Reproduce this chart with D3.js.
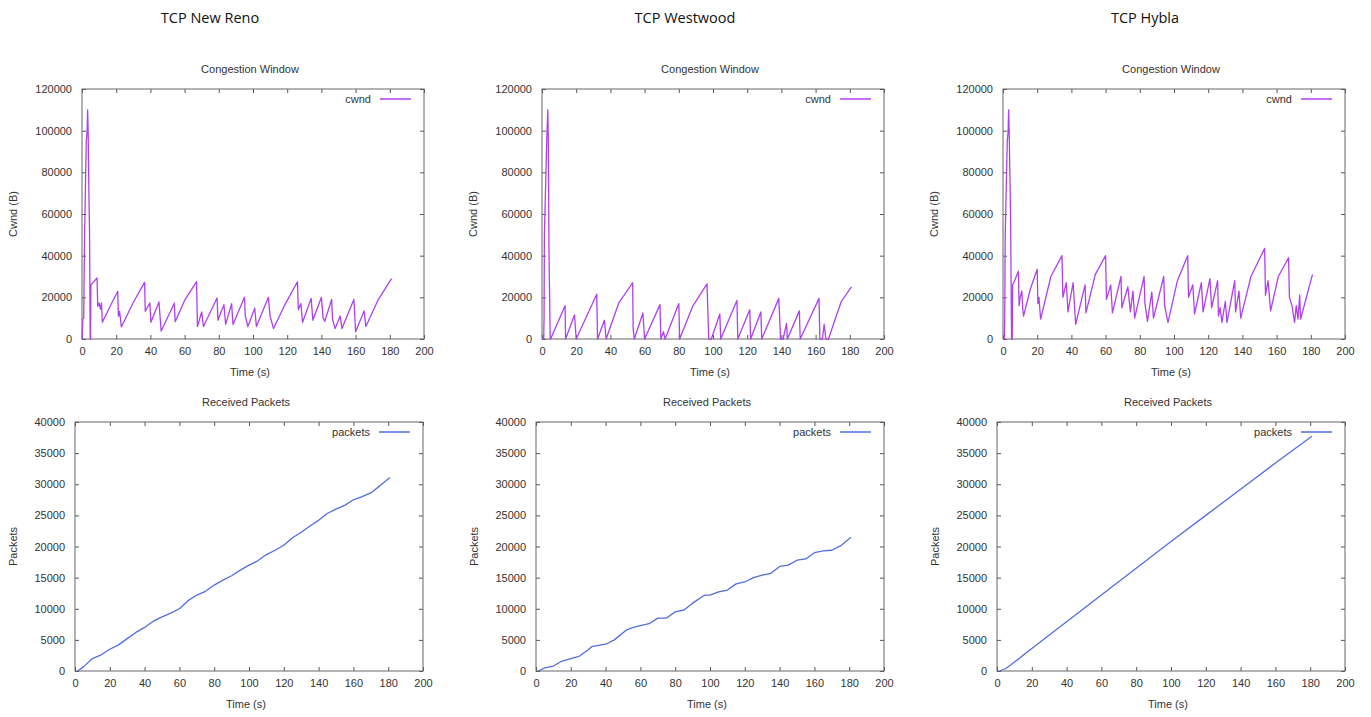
<!DOCTYPE html>
<meta charset="utf-8">
<style>

body {
  margin: 0;
  background: #fff;
}

text {
  font-family: "Liberation Sans", Arial, sans-serif;
  fill: #333;
}

.axis text {
  font-size: 11px;
}

.axis line {
  stroke: #555;
}

.frame {
  fill: none;
  stroke: #666;
  stroke-width: 1px;
}

.series {
  fill: none;
  stroke-width: 1.3px;
  stroke-linejoin: round;
}

</style>
<svg width="1371" height="717"></svg>
<script src="https://d3js.org/d3.v7.min.js"></script>
<script>

var protocols = ["TCP New Reno", "TCP Westwood", "TCP Hybla"];

var timeTicks = [0, 20, 40, 60, 80, 100, 120, 140, 160, 180, 200];
var cwndTicks = [0, 20000, 40000, 60000, 80000, 100000, 120000];
var packetTicks = [0, 5000, 10000, 15000, 20000, 25000, 30000, 35000, 40000];

// [time (s), cwnd (B)]
var renoCwnd = [
  [0, 0], [0.5, 10000], [1, 10000], [1.5, 50000], [2.5, 95000], [3, 100000], [3.3, 110000],
  [3.6, 100000], [4, 72000], [4.4, 52000], [4.8, 0], [5, 0], [5.2, 26000], [8.8, 29300],
  [9.2, 15700], [10, 17300], [10.8, 14400], [11.4, 17300], [11.9, 8000], [16, 15000],
  [20.9, 22900], [21.3, 10900], [22, 13300], [23, 5800], [30, 17500], [36.6, 27200],
  [37, 13300], [39.7, 17300], [40.3, 8000], [45, 17800], [46.3, 3800], [54, 17200],
  [54.5, 8300], [60, 18500], [67, 27500], [67.5, 6000], [70, 13000], [71, 6000],
  [79, 19700], [79.5, 9000], [83, 16500], [84, 7000], [87.5, 17000], [88.3, 7000],
  [95, 20000], [95.5, 11000], [97, 6000], [101, 14800], [102, 6000], [109, 20000],
  [110, 11000], [112, 5000], [119, 17000], [126, 27500], [126.5, 14000], [128, 17000],
  [129, 8000], [134, 19500], [135, 9000], [140, 20000], [141, 10000], [142, 8500],
  [146, 19000], [146.5, 9500], [148, 5000], [151, 11000], [152, 5000], [159, 19000],
  [160, 3500], [165, 13500], [166, 6000], [173, 18500], [181, 29000]
];

var westwoodCwnd = [
  [0, 0], [1, 0], [1.2, 10000], [1.4, 50000], [2.8, 96000], [3.4, 110000], [3.7, 96000],
  [4.1, 41000], [4.8, 0], [5, 0], [13.5, 16000], [13.8, 0], [19, 11500], [20, 0],
  [32, 21500], [32.5, 0], [36.5, 9000], [37.5, 0], [45, 17500], [53, 27000], [53.3, 5000],
  [54, 0], [59, 12500], [60, 0], [69, 16500], [69.5, 0], [71, 3500], [72, 0], [80, 17000],
  [80.5, 0], [88, 15500], [96.5, 26500], [97.5, 0], [99, 0], [104, 12000], [104.5, 0],
  [114, 18500], [114.5, 0], [121.5, 14000], [122, 0], [128, 13000], [128.5, 0],
  [138.5, 19500], [139.5, 0], [141, 0], [143, 7500], [143.5, 0], [150.5, 13500], [151, 0],
  [162, 19500], [162.5, 0], [164, 0], [165, 7000], [166, 0], [167.5, 0], [175, 18000],
  [181, 25000]
];

var hyblaCwnd = [
  [0, 0], [0.8, 0], [1, 10000], [1.3, 50000], [2.5, 95000], [3, 100000], [3.3, 110000],
  [3.6, 100000], [4.2, 71000], [4.5, 52000], [5, 0], [5.4, 0], [5.6, 26000], [6.5, 27500],
  [9, 32500], [9.4, 16000], [10, 20000], [11, 23000], [11.5, 15000], [12, 11000],
  [16, 24000], [20, 33500], [20.4, 17000], [21, 20000], [22, 9500], [28, 30000],
  [34.5, 40000], [35, 20000], [37, 27000], [38, 13000], [41, 27000], [42.5, 7000],
  [48, 26000], [48.5, 12500], [54, 31000], [60, 40000], [60.5, 19000], [63, 26000],
  [64, 12500], [69, 30000], [69.5, 15000], [73, 25000], [74.5, 13000], [76, 23000],
  [77, 10000], [82.5, 30000], [83, 17000], [84.5, 8500], [87, 22500], [88, 10000],
  [94, 30000], [94.5, 16000], [96.5, 8000], [102, 28000], [108, 40000], [108.5, 20000],
  [111, 26000], [112, 12000], [116, 27000], [117, 13000], [121, 29000], [122, 15000],
  [125.5, 28000], [126, 11000], [127, 15000], [128, 8000], [130, 18000], [131, 8000],
  [135.5, 28000], [136, 13000], [138, 23000], [139, 10000], [145, 30000], [153, 43500],
  [153.5, 21000], [155, 28000], [156.5, 13500], [161, 30000], [167, 39000], [167.5, 20000],
  [169, 16000], [170.5, 8000], [171.5, 16000], [172.5, 9500], [173.5, 21000], [174, 9500],
  [181, 31000]
];

// [time (s), received packets]
var renoPackets = [
  [1.5, 0], [5, 700], [10, 2000], [15, 2600], [20, 3500], [25, 4200], [30, 5200], [35, 6200],
  [40, 7000], [45, 8000], [50, 8700], [55, 9300], [60, 10000], [65, 11300], [70, 12200],
  [75, 12800], [80, 13800], [85, 14600], [90, 15300], [95, 16200], [100, 17000],
  [105, 17700], [110, 18700], [115, 19400], [120, 20200], [125, 21400], [130, 22300],
  [135, 23300], [140, 24200], [145, 25300], [150, 26000], [155, 26600], [160, 27500],
  [165, 28000], [170, 28600], [175, 29700], [181, 31100]
];

var westwoodPackets = [
  [1.5, 0], [5, 500], [10, 800], [15, 1600], [20, 2000], [25, 2400], [30, 3400], [32, 3900],
  [40, 4300], [45, 5000], [52, 6600], [56, 7000], [60, 7300], [65, 7600], [70, 8500],
  [75, 8500], [80, 9500], [85, 9800], [90, 10900], [97, 12200], [100, 12200], [105, 12700],
  [110, 13000], [115, 14000], [120, 14300], [125, 15000], [130, 15400], [135, 15700],
  [140, 16800], [145, 17000], [150, 17800], [155, 18000], [160, 19000], [165, 19300],
  [170, 19400], [175, 20100], [181, 21500]
];

var hyblaPackets = [
  [1.5, 0], [5, 400], [8, 1000], [20, 3600], [40, 7900], [60, 12200], [80, 16500],
  [100, 20800], [120, 25000], [140, 29200], [160, 33400], [181, 37700]
];

var cwndSeries = [renoCwnd, westwoodCwnd, hyblaCwnd];
var packetSeries = [renoPackets, westwoodPackets, hyblaPackets];

var svg = d3.select("svg");

var columnTitleX = [210, 685, 1145];

protocols.forEach(function(name, i) {
  svg.append("text")
      .attr("x", columnTitleX[i])
      .attr("y", 23)
      .attr("text-anchor", "middle")
      .style("font-family", "'Open Sans', 'Liberation Sans', sans-serif")
      .style("font-size", "14.5px")
      .style("fill", "#111")
      .text(name);

  drawPanel({
    left: [82, 542, 1003][i], right: [424, 884, 1345][i], top: 89, bottom: 339,
    data: cwndSeries[i], yMax: 120000, yTicks: cwndTicks,
    title: "Congestion Window", yLabel: "Cwnd (B)", yLabelOffset: 69,
    key: "cwnd", color: "#b040ee"
  });

  drawPanel({
    left: [75, 536, 997][i], right: [423, 884, 1345][i], top: 422, bottom: 671,
    data: packetSeries[i], yMax: 40000, yTicks: packetTicks,
    title: "Received Packets", yLabel: "Packets", yLabelOffset: 62,
    key: "packets", color: "#4f6fe0"
  });
});

function drawPanel(p) {
  var x = d3.scaleLinear().domain([0, 200]).range([p.left, p.right]),
      y = d3.scaleLinear().domain([0, p.yMax]).range([p.bottom, p.top]);

  var g = svg.append("g");

  g.append("g")
      .attr("class", "axis")
      .attr("transform", "translate(0," + p.bottom + ")")
      .call(d3.axisBottom(x).tickValues(timeTicks).tickSize(-4).tickPadding(8))
      .call(function(a) { a.select(".domain").remove(); });

  g.append("g")
      .attr("class", "axis")
      .attr("transform", "translate(0," + p.top + ")")
      .call(d3.axisTop(x).tickValues(timeTicks).tickSize(-4).tickFormat(""))
      .call(function(a) { a.select(".domain").remove(); });

  g.append("g")
      .attr("class", "axis")
      .attr("transform", "translate(" + p.left + ",0)")
      .call(d3.axisLeft(y).tickValues(p.yTicks).tickSize(-4).tickPadding(10).tickFormat(d3.format("d")))
      .call(function(a) { a.select(".domain").remove(); });

  g.append("g")
      .attr("class", "axis")
      .attr("transform", "translate(" + p.right + ",0)")
      .call(d3.axisRight(y).tickValues(p.yTicks).tickSize(-4).tickFormat(""))
      .call(function(a) { a.select(".domain").remove(); });

  g.append("rect")
      .attr("class", "frame")
      .attr("x", p.left)
      .attr("y", p.top)
      .attr("width", p.right - p.left)
      .attr("height", p.bottom - p.top);

  var line = d3.line()
      .x(function(d) { return x(d[0]); })
      .y(function(d) { return y(d[1]); });

  g.append("path")
      .datum(p.data)
      .attr("class", "series")
      .attr("stroke", p.color)
      .attr("d", line);

  // legend, top right inside the frame
  g.append("text")
      .attr("x", p.right - 53)
      .attr("y", p.top + 14)
      .attr("text-anchor", "end")
      .style("font-size", "11px")
      .text(p.key);

  g.append("line")
      .attr("x1", p.right - 44)
      .attr("x2", p.right - 13)
      .attr("y1", p.top + 10)
      .attr("y2", p.top + 10)
      .attr("stroke", p.color)
      .attr("stroke-width", 1.5);

  var cx = (p.left + p.right) / 2 - 3;

  g.append("text")
      .attr("x", cx)
      .attr("y", p.top - 16)
      .attr("text-anchor", "middle")
      .style("font-size", "11px")
      .text(p.title);

  g.append("text")
      .attr("x", cx)
      .attr("y", p.bottom + 37)
      .attr("text-anchor", "middle")
      .style("font-size", "11px")
      .text("Time (s)");

  g.append("text")
      .attr("transform", "translate(" + (p.left - p.yLabelOffset + 4) + "," + ((p.top + p.bottom) / 2) + ") rotate(-90)")
      .attr("text-anchor", "middle")
      .style("font-size", "11px")
      .text(p.yLabel);
}

</script>
